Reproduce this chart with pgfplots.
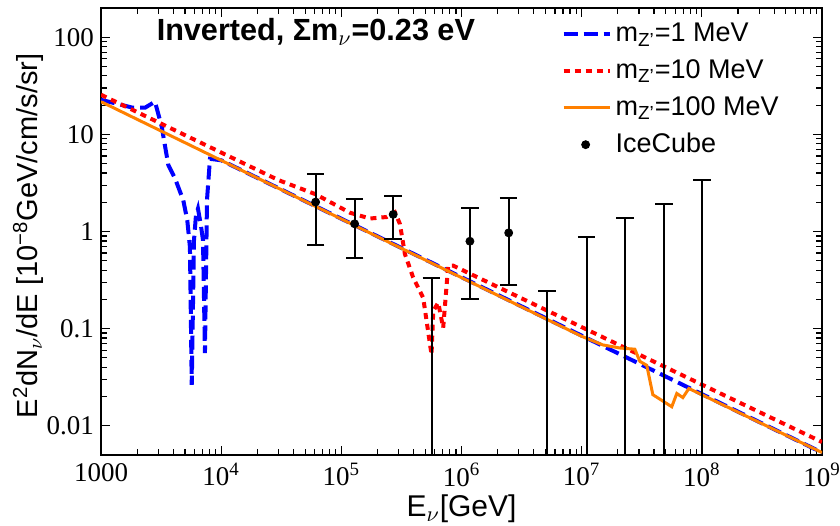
\documentclass[border=0pt]{standalone}
\usepackage{pgfplots}
\pgfplotsset{compat=1.18}
\usepackage{fontspec}
\setmainfont{Liberation Sans}
\newfontfamily\tnr{Liberation Serif}
\definecolor{myorange}{RGB}{255,128,0}
\pgfplotstableread{
x y ep em
6.11e4 2.01 1.86 1.277
1.29e5 1.20 0.95 0.672
2.70e5 1.50 0.82 0.655
1.175e6 0.794 0.966 0.593
2.47e6 0.968 1.242 0.688
}\icdata
\pgfplotstableread{
x y ep
5.63e5 0.004 0.332
5.16e6 0.004 0.241
1.10e7 0.004 0.883
2.29e7 0.004 1.386
4.83e7 0.004 1.936
1.00e8 0.004 3.366
}\iclim
\begin{document}
\begin{tikzpicture}
\path[use as bounding box] (-50.5pt,-35pt) rectangle (369.5pt,227.5pt);
\begin{axis}[
 at={(0,0)}, anchor=south west,
 scale only axis, width=360.5pt, height=223.5pt,
 xmode=log, ymode=log,
 xmin=1000, xmax=1e9, ymin=0.005, ymax=200,
 xtick={1e3,1e4,1e5,1e6,1e7,1e8,1e9},
 xticklabels={1000,10\textsuperscript{4},10\textsuperscript{5},10\textsuperscript{6},10\textsuperscript{7},10\textsuperscript{8},10\textsuperscript{9}},
 ytick={0.01,0.1,1,10,100},
 yticklabels={0.01,0.1,1,10,100},
 tick label style={font=\tnr\fontsize{13.5}{15}\selectfont},
 xticklabel style={yshift=-0.5pt},
 axis line style={line width=0.7pt},
 tick style={black, line width=0.6pt},
 xlabel={E$_\nu$[GeV]},
 ylabel={E\textsuperscript{2}dN$_\nu$/dE [10\textsuperscript{−8}GeV/cm/s/sr]},
 x label style={font=\fontsize{15}{17}\selectfont, at={(axis description cs:0.5,-0.112)}, anchor=center, yshift=-2pt},
 y label style={font=\fontsize{14.5}{16}\selectfont, at={(axis description cs:-0.101,0.49)}, anchor=center},
 legend style={at={(0.63,0.985)}, anchor=north west, draw=none, fill=none,
   font=\fontsize{13.5}{15}\selectfont, row sep=3.5pt,
   /tikz/every even column/.append style={column sep=3pt}},
 legend cell align=left,
 legend image code/.code={\draw[#1] (0pt,0pt) -- (23pt,0pt);},
]
\addplot[blue, line width=2pt, dash pattern=on 7pt off 3pt] coordinates {
(1000,22.7) (1845,18.8) (2323,18.8) (2812,21.7) (3199,12.05) (3631,4.83) (4130,3.52)
(4842,2.09) (5226,1.30) (5497,0.687) (5690,0.0264) (5940,0.81) (6170,1.47) (6410,1.72)
(6790,1.15) (7060,0.81) (7330,0.056) (7620,2.1) (8070,5.6) (1e4,5.41) (1e9,0.0053)};
\addlegendentry{m\textsubscript{Z'}=1 MeV}
\addplot[red, line width=2pt, dash pattern=on 3pt off 2.5pt] coordinates {
(1000,25.6) (3e4,3.38) (6.1e4,2.42) (1.18e5,1.56) (1.73e5,1.36) (2.38e5,1.41) (2.79e5,1.58)
(3.07e5,1.20) (3.38e5,0.587) (3.96e5,0.336) (4.80e5,0.208) (5.63e5,0.054) (5.82e5,0.152)
(6.40e5,0.185) (7.04e5,0.102) (7.75e5,0.445) (8.53e5,0.445) (1e9,0.0068)};
\addlegendentry{m\textsubscript{Z'}=10 MeV}
\addplot[myorange, line width=1.5pt] coordinates {
(1000,21.7) (1e7,0.0834) (1.5e7,0.068) (2.08e7,0.0632) (2.77e7,0.0614) (3.05e7,0.046)
(3.48e7,0.0419) (3.91e7,0.0209) (5.62e7,0.0157) (6.19e7,0.0215) (6.95e7,0.0195)
(7.80e7,0.0242) (1e9,0.0053)};
\addlegendentry{m\textsubscript{Z'}=100 MeV}
\addplot[black, only marks, mark=*, mark size=2pt,
 legend image code/.code={\fill[black] (11pt,0pt) circle (2pt);},
 error bars/.cd, y dir=both, y explicit,
 error bar style={line width=1pt},
 error mark options={line width=1pt, mark size=4.4pt, rotate=90}]
 table[x=x, y=y, y error plus=ep, y error minus=em] {\icdata};
\addlegendentry{IceCube}
\addplot[black, only marks, mark=none, forget plot,
 error bars/.cd, y dir=plus, y explicit,
 error bar style={line width=1pt},
 error mark options={line width=1pt, mark size=4.4pt, rotate=90}]
 table[x=x, y=y, y error plus=ep] {\iclim};
\node[font=\bfseries\fontsize{15.3}{18}\selectfont] at (rel axis cs:0.298,0.946) {Inverted, Σm$_\nu$=0.23 eV};
\end{axis}
\end{tikzpicture}
\end{document}
